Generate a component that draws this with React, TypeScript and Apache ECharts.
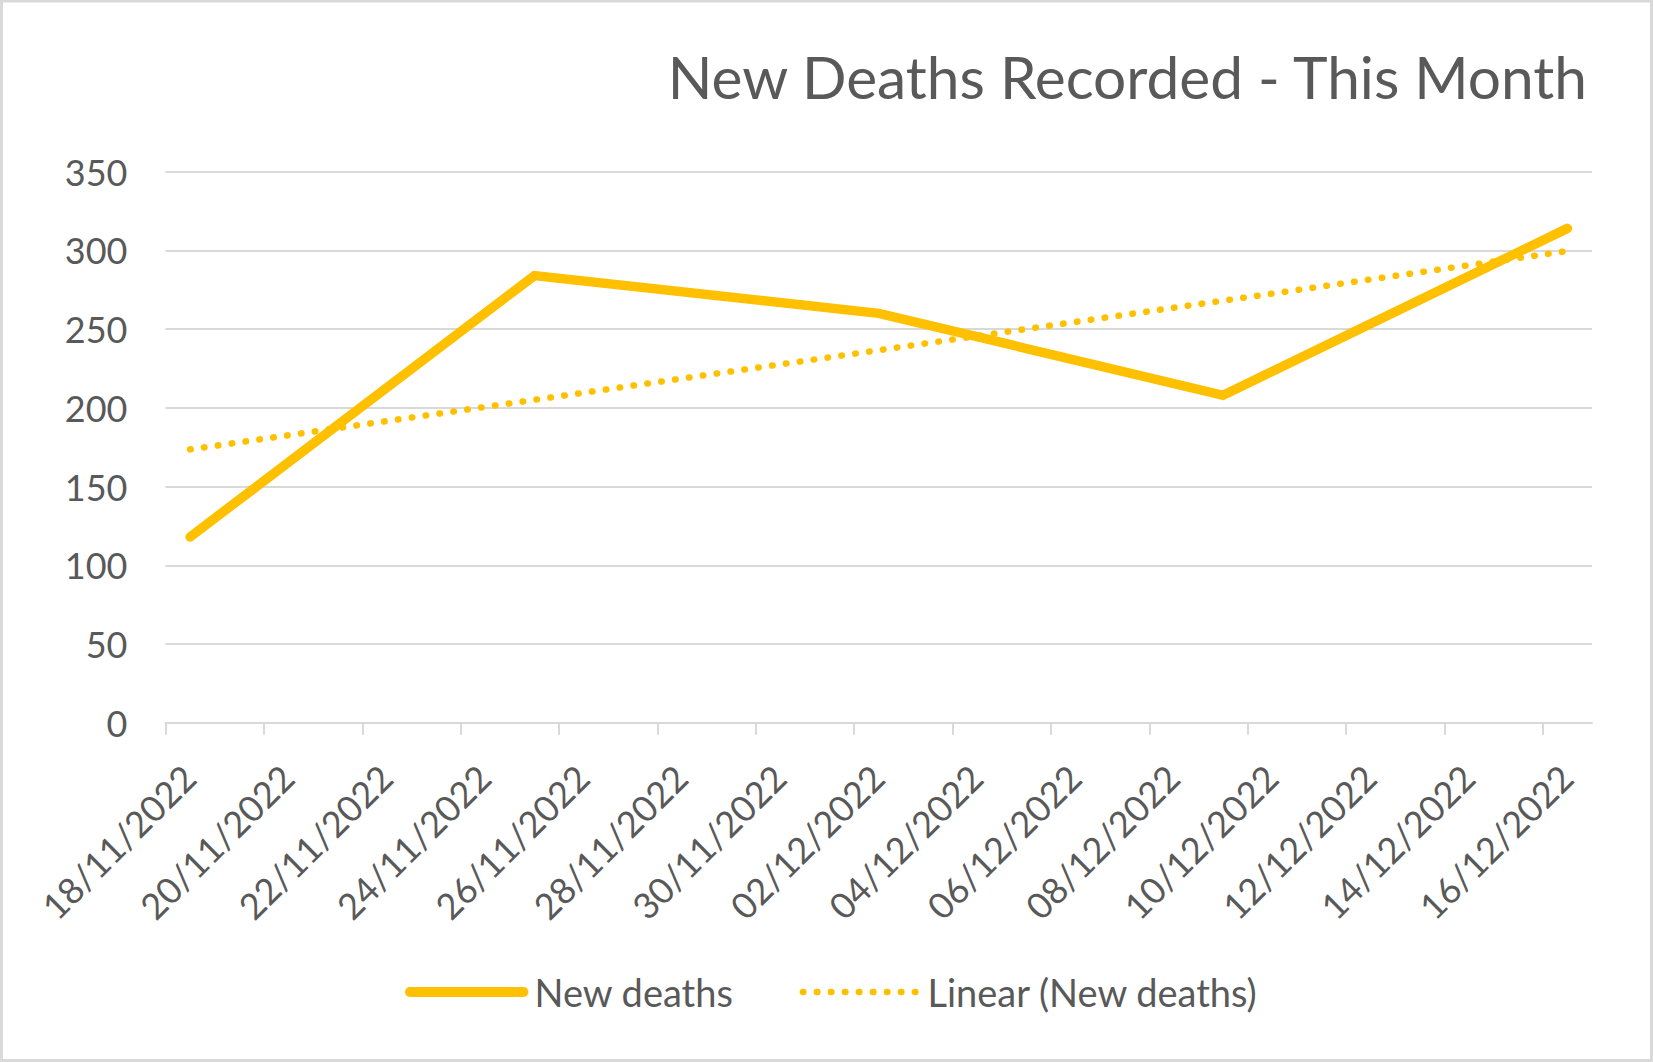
import React, { useEffect, useRef } from "react";
import * as echarts from "echarts";

// ---- data ----
const tickLabels = [
  "18/11/2022", "20/11/2022", "22/11/2022", "24/11/2022", "26/11/2022",
  "28/11/2022", "30/11/2022", "02/12/2022", "04/12/2022", "06/12/2022",
  "08/12/2022", "10/12/2022", "12/12/2022", "14/12/2022", "16/12/2022",
];
const pointDates = ["18/11/2022", "25/11/2022", "02/12/2022", "09/12/2022", "16/12/2022"];
const newDeaths = [118, 284, 260, 208, 314];
const trendDates = ["18/11/2022", "16/12/2022"];
const trendValues = [173.6, 299.6];
const yMin = 0;
const yMax = 350;
const yStep = 50;

const titleText = "New Deaths Recorded - This Month";
const seriesName = "New deaths";
const trendName = "Linear (New deaths)";

const GOLD = "#FFC000";
const TEXT = "#595959";
const GRID = "#D9D9D9";
const FONT = "Lato";

function dayIndex(s: string): number {
  const [d, m, y] = s.split("/").map(Number);
  const [d0, m0, y0] = tickLabels[0].split("/").map(Number);
  return Math.round((Date.UTC(y, m - 1, d) - Date.UTC(y0, m0 - 1, d0)) / 86400000);
}

export default function App() {
  const ref = useRef<HTMLDivElement>(null);

  useEffect(() => {
    if (!ref.current) return;
    const chart = echarts.init(ref.current, undefined, { renderer: "svg" });

    const tickValues = tickLabels.map(dayIndex);
    const labelByDay: Record<number, string> = {};
    tickLabels.forEach((l) => (labelByDay[dayIndex(l)] = l));
    const axisMax = dayIndex(tickLabels[tickLabels.length - 1]) + 1;

    // Excel date axis: each day occupies a slot, points sit in the middle of it
    const mainData = pointDates.map((d, i) => [dayIndex(d) + 0.5, newDeaths[i]]);
    const trendData = trendDates.map((d, i) => [dayIndex(d) + 0.5, trendValues[i]]);

    chart.setOption({
      animation: false,
      backgroundColor: "#FFFFFF",
      textStyle: { fontFamily: FONT },
      graphic: [
        {
          type: "rect",
          shape: { x: 1.5, y: 1, width: 1650, height: 1059.5 },
          style: { fill: "none", stroke: GRID, lineWidth: 3 },
          silent: true,
        },
        {
          type: "text",
          x: 1587,
          y: 76,
          style: {
            text: titleText,
            fontFamily: FONT,
            fontSize: 58.6,
            fill: TEXT,
            align: "right",
            verticalAlign: "middle",
          },
        },
      ],
      grid: { left: 165.5, right: 61, top: 171.7, bottom: 339.3, containLabel: false },
      legend: {
        left: 400,
        top: 968,
        itemWidth: 113.5,
        itemHeight: 10,
        itemGap: 66,
        itemStyle: { opacity: 0 },
        textStyle: { fontFamily: FONT, fontSize: 38, color: TEXT, padding: [0, 0, 0, 6] },
        data: [
          { name: seriesName, lineStyle: { width: 10, cap: "round" }, itemStyle: { opacity: 0 } },
          { name: trendName, lineStyle: { width: 6.5, cap: "round" }, itemStyle: { opacity: 0 } },
        ],
      },
      xAxis: {
        type: "value",
        min: 0,
        max: axisMax,
        interval: 2,
        axisLine: { show: true, lineStyle: { color: GRID, width: 2 } },
        axisTick: {
          show: true,
          length: 12,
          customValues: tickValues,
          lineStyle: { color: GRID, width: 2 },
        },
        splitLine: { show: false },
        axisLabel: {
          customValues: tickValues,
          formatter: (v: number) => labelByDay[Math.round(v)] ?? "",
          rotate: 45,
          margin: 25,
          align: "right",
          verticalAlign: "top",
          lineHeight: 66,
          fontFamily: FONT,
          fontSize: 36,
          color: TEXT,
          hideOverlap: false,
        },
      },
      yAxis: {
        type: "value",
        min: yMin,
        max: yMax,
        interval: yStep,
        axisLine: { show: false },
        axisTick: { show: false },
        splitLine: { show: true, lineStyle: { color: GRID, width: 2 } },
        axisLabel: { margin: 38, fontFamily: FONT, fontSize: 36, color: TEXT },
      },
      series: [
        {
          name: seriesName,
          type: "line",
          data: mainData,
          symbol: "none",
          lineStyle: { color: GOLD, width: 9.5, cap: "round", join: "miter" },
          itemStyle: { color: GOLD },
          z: 2,
        },
        {
          name: trendName,
          type: "line",
          data: trendData,
          symbol: "none",
          lineStyle: { color: GOLD, width: 6.5, type: [0.5, 13.5], cap: "round" },
          itemStyle: { color: GOLD },
          z: 3,
        },
      ],
    });

    return () => chart.dispose();
  }, []);

  return (
    <div
      ref={ref}
      style={{ position: "fixed", left: 0, top: 0, width: 1653, height: 1062 }}
    />
  );
}
